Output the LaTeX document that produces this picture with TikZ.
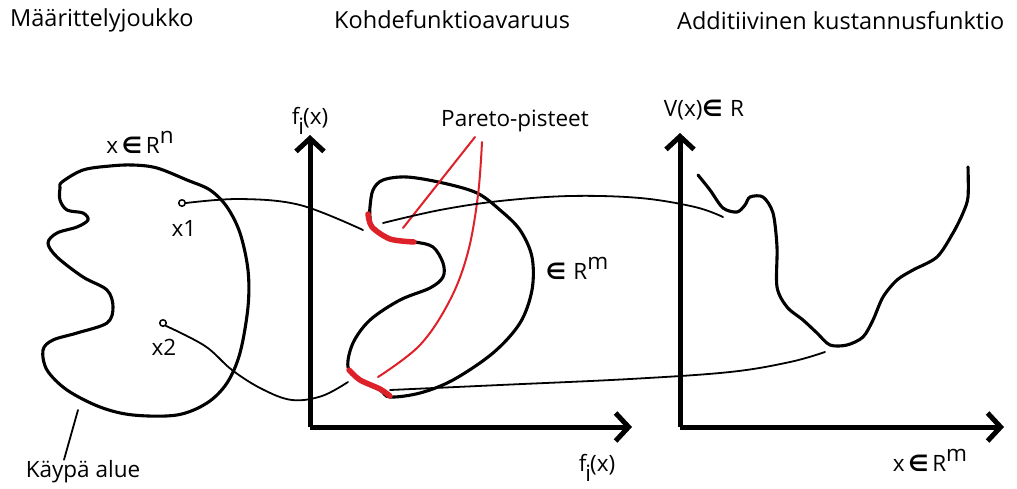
\documentclass[tikz,border=0pt]{standalone}
\usepackage{fontspec}
\setmainfont{Open Sans}
\newfontfamily\symfont{DejaVu Sans}
\usetikzlibrary{arrows.meta}
\definecolor{pred}{RGB}{222,32,40}
\newcommand{\elem}{{\symfont\bfseries ∈}}
\begin{document}
\begin{tikzpicture}[x=1pt,y=-1pt,
  blob/.style={line width=3.1pt,line join=round,line cap=round},
  thinline/.style={line width=1.8pt,line cap=round},
  axis/.style={line width=5pt,-{Straight Barb[length=13pt,width=28pt]}},
  redthin/.style={pred,line width=2pt,line cap=round},
  redthick/.style={pred,line width=5.5pt,line cap=round,line join=round},
  lbl/.style={font=\fontsize{22.5}{23}\selectfont,inner sep=0pt},
  ttl/.style={font=\fontsize{23.5}{24}\selectfont,inner sep=0pt,anchor=base west},
  pt/.style={circle,draw,line width=1.5pt,minimum size=6.5pt,inner sep=0pt}]
\useasboundingbox (0,0) rectangle (1017,488);

% titles
\node[ttl] (t1) at (10,26) {Määrittelyjoukko};
\node[ttl] (t2) at (334,28) {Kohdefunktioavaruus};
\node[ttl] (t3) at (677,29) {Additiivinen kustannusfunktio};

% left feasible set
\draw[blob] plot[smooth cycle,tension=0.55] coordinates {
(62,182) (83,170) (110,166) (133,165) (157,168) (187,180) (210,190) (227,207)
(240,233) (248,270) (248,307) (240,353) (227,383) (207,403) (177,415) (133,415)
(100,407) (67,390) (47,370) (43,350) (53,340) (77,333) (107,323) (113,307)
(107,290) (83,277) (57,257) (48,243) (57,233) (77,227) (88,220) (83,213)
(67,210) (60,200) (60,188)};

\node[lbl,anchor=base] (xrn) at (140,153) {x\,\elem\,R\raisebox{10pt}{n}};
\node[pt] (x1) at (182,203) {};
\node[pt] (x2) at (163,323) {};
\node[lbl] (x1l) at (184,228) {x1};
\node[lbl] (x2l) at (164,347) {x2};
\coordinate (kb) at (78,410);
\node[lbl,anchor=base] (kaypa) at (83,477) {Käypä alue};
\draw[thinline] (kb) -- (kaypa.north -| 64,0) ;

% middle axes
\coordinate (o1) at (310,427);
\draw[axis] (o1) -- (310,135);
\draw[axis] (o1) -- (632,427);
\node[lbl,anchor=base] (fy) at (310,124) {f\kern-1pt\raisebox{-10pt}{i}\kern-1pt(x)};
\node[lbl,anchor=base] (fx) at (597,471) {f\kern-1pt\raisebox{-10pt}{i}\kern-1pt(x)};

% objective-space blob
\draw[blob] plot[smooth cycle,tension=0.55] coordinates {
(370,217) (372,227) (390,239) (415,242) (433,247) (443,263) (443,277) (430,288)
(400,300) (370,320) (353,343) (348,367) (360,380) (380,390) (390,397) (420,393)
(453,380) (493,353) (520,323) (532,290) (532,257) (520,230) (500,210) (477,193)
(443,183) (407,177) (383,180) (373,190) (370,207)};
\draw[redthick] plot[smooth,tension=0.5] coordinates {(368,214) (372,227) (390,239) (414,242)};
\draw[redthick] plot[smooth,tension=0.5] coordinates {(349,370) (360,380) (380,389) (390,396)};
\node[lbl,anchor=base] (rm) at (577,279) {\elem\,\,R\raisebox{10pt}{m}};

% Pareto label
\node[lbl,anchor=base] (par) at (515,126) {Pareto-pisteet};
\coordinate (p1) at (403,228);
\coordinate (p2) at (378,377);
\draw[redthin] (475,137) -- (p1);
\draw[redthin] plot[smooth,tension=0.6] coordinates {(482,142) (478,195) (468,252) (450,300) (420,345) (p2)};

% connectors x1
\coordinate (a1) at (363,230);
\coordinate (b1) at (383,223);
\coordinate (c1) at (723,217);
\draw[thinline] plot[smooth,tension=0.6] coordinates {(x1.east) (240,199) (300,205) (a1)};
\draw[thinline] plot[smooth,tension=0.6] coordinates {(b1) (440,210) (500,201) (570,196) (640,198) (695,207) (c1)};
% connectors x2
\coordinate (a2) at (348,382);
\coordinate (b2) at (390,390);
\coordinate (c2) at (825,352);
\draw[thinline] plot[smooth,tension=0.6] coordinates {(x2.south east) (205,346) (232,370) (262,389) (292,400) (322,396) (a2)};
\draw[thinline] plot[smooth,tension=0.6] coordinates {(b2) (500,385) (630,379) (730,372) (790,362) (c2)};

% right axes
\coordinate (o2) at (680,427);
\draw[axis] (o2) -- (680,133);
\draw[axis] (o2) -- (1004,427);
\node[lbl,anchor=base] (vx) at (704,116) {V(x)\elem\,\,R};
\node[lbl,anchor=base] (xrm) at (930,471) {x\,\elem\,R\raisebox{10pt}{m}};

% cost function
\draw[blob] plot[smooth,tension=0.5] coordinates {
(698,175) (710,190) (723,208) (737,212) (745,205) (750,197) (763,197) (773,213)
(777,247) (777,287) (787,307) (803,320) (817,333) (830,345) (847,345) (863,337)
(873,320) (883,297) (897,280) (913,270) (937,257) (953,233) (963,213) (968,197) (968,167)};
\end{tikzpicture}
\end{document}
